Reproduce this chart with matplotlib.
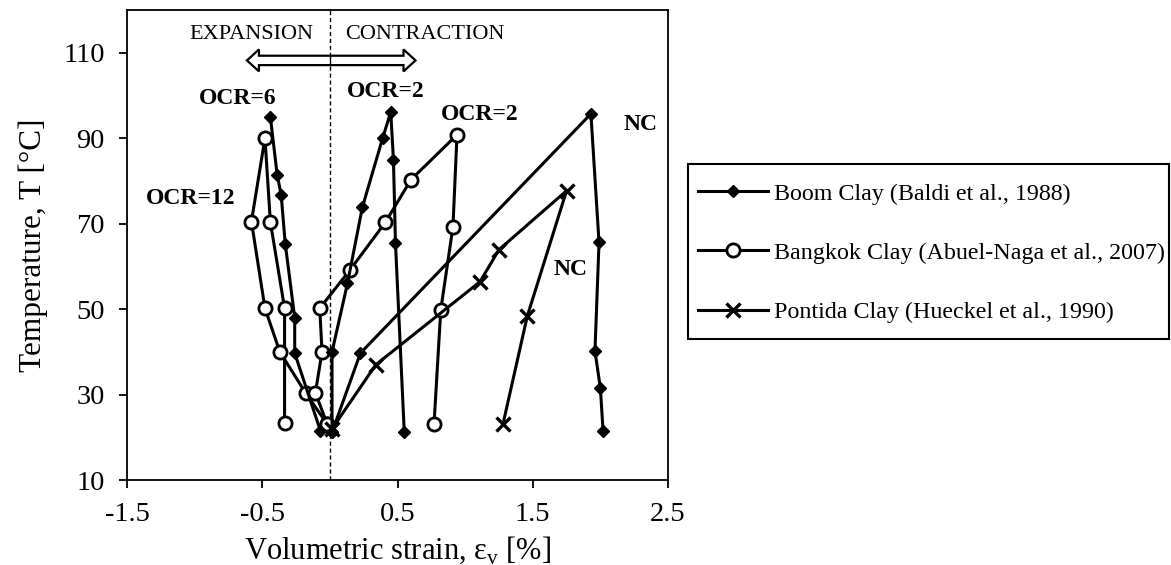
import matplotlib
matplotlib.use("Agg")
import matplotlib.pyplot as plt
from matplotlib.lines import Line2D
from matplotlib.patches import Polygon, Rectangle
import numpy as np

plt.rcParams['font.family'] = ['Liberation Serif', 'DejaVu Serif']
plt.rcParams['mathtext.fontset'] = 'custom'
plt.rcParams['mathtext.rm'] = 'Liberation Serif'

# ---------------- data ----------------
# Boom Clay (Baldi et al., 1988)
boom_ocr6_x = [-0.07, -0.26, -0.26, -0.33, -0.36, -0.39, -0.44]
boom_ocr6_t = [21.5, 39.7, 48.0, 65.3, 76.7, 81.5, 95.0]
boom_ocr2_x = [0.016, 0.016, 0.13, 0.24, 0.39, 0.45, 0.47, 0.485, 0.55]
boom_ocr2_t = [21.2, 40.0, 56.0, 73.8, 90.0, 96.1, 85.0, 65.4, 21.2]
boom_nc_x = [0.016, 0.226, 1.93, 1.99, 1.96, 2.00, 2.02]
boom_nc_t = [21.2, 39.7, 95.7, 65.6, 40.2, 31.5, 21.5]

# Bangkok Clay (Abuel-Naga et al., 2007)
bkk_ocr12_x = [-0.02, -0.18, -0.37, -0.48, -0.58, -0.48, -0.44, -0.335, -0.335]
bkk_ocr12_t = [23.1, 30.4, 40.0, 50.2, 70.5, 90.0, 70.4, 50.2, 23.3]
bkk_ocr2_x = [-0.02, -0.107, -0.058, -0.075, 0.15, 0.41, 0.60, 0.94, 0.91, 0.82, 0.77]
bkk_ocr2_t = [23.1, 30.4, 40.0, 50.2, 59.2, 70.3, 80.3, 90.8, 69.3, 49.8, 23.1]

# Pontida Clay (Hueckel et al., 1990)
pont_x = [0.016, 0.34, 1.11, 1.25, 1.75, 1.46, 1.28]
pont_t = [22.0, 37.0, 56.4, 63.9, 77.7, 48.4, 23.1]

series_labels = ["Boom Clay (Baldi et al., 1988)",
                 "Bangkok Clay (Abuel-Naga et al., 2007)",
                 "Pontida Clay (Hueckel et al., 1990)"]

x_ticks = [-1.5, -0.5, 0.5, 1.5, 2.5]
y_ticks = [10, 30, 50, 70, 90, 110]

# ---------------- figure ----------------
W, H = 1171, 565
fig = plt.figure(figsize=(W / 100, H / 100), dpi=100)
ax = fig.add_axes([127 / W, 1 - 480 / H, (668 - 127) / W, (480 - 10) / H])

lw = 2.2
boom_style = dict(color='black', lw=lw, marker='D', markersize=6.2,
                  markerfacecolor='black', markeredgecolor='black')
bkk_style = dict(color='black', lw=lw, marker='o', markersize=9.5,
                 markerfacecolor='white', markeredgecolor='black', markeredgewidth=2.0)
pont_style = dict(color='black', lw=lw, marker='x', markersize=9.5,
                  markeredgewidth=2.4)

ax.axvline(0, color='black', lw=1.0, linestyle=(0, (3, 2)), zorder=1)

ax.plot(bkk_ocr12_x, bkk_ocr12_t, zorder=2, **bkk_style)
ax.plot(bkk_ocr2_x, bkk_ocr2_t, zorder=2, **bkk_style)
ax.plot(pont_x, pont_t, zorder=3, **pont_style)
ax.plot(boom_ocr6_x, boom_ocr6_t, zorder=4, **boom_style)
ax.plot(boom_ocr2_x, boom_ocr2_t, zorder=4, **boom_style)
ax.plot(boom_nc_x, boom_nc_t, zorder=4, **boom_style)

ax.set_xlim(-1.5, 2.5)
ax.set_ylim(10, 120)
ax.set_xticks(x_ticks)
ax.set_xticklabels([f"{v:.1f}" for v in x_ticks])
ax.set_yticks(y_ticks)
ax.set_yticklabels([str(v) for v in y_ticks])
ax.tick_params(direction='out', length=6, width=1.3, labelsize=20.5, pad=10,
               colors='black')
for s in ax.spines.values():
    s.set_linewidth(1.3)
    s.set_color('black')

ax.set_xlabel(r"Volumetric strain, ε$_\mathregular{v}$ [%]", fontsize=22, labelpad=5)
ax.set_ylabel("Temperature, T [°C]", fontsize=22.5, labelpad=11)

# annotations
bold = dict(fontsize=17, fontweight='bold', ha='center', va='center')
ax.text(-0.68, 99.4, "OCR=6", **bold)
ax.text(-1.03, 76.0, "OCR=12", **bold)
ax.text(0.41, 100.9, "OCR=2", **bold)
ax.text(1.107, 95.5, "OCR=2", **bold)
ax.text(2.30, 93.1, "NC", **bold)
ax.text(1.78, 59.2, "NC", **bold)

ax.text(-0.12, 114.2, "EXPANSION", fontsize=16, ha='right', va='center')
ax.text(0.115, 114.2, "CONTRACTION", fontsize=16, ha='left', va='center')

# hollow double arrow (sizes in pixels converted to data units)
px_x = 4.0 / (668 - 127)   # data units per pixel in x
px_y = 110.0 / (480 - 10)  # data units per pixel in y
xa, xb, yc = -0.613, 0.633, 108.2
hs, hh, hl = 4.7 * px_y, 11.0 * px_y, 12.0 * px_x
poly = [(xa, yc), (xa + hl, yc + hh), (xa + hl, yc + hs), (xb - hl, yc + hs),
        (xb - hl, yc + hh), (xb, yc), (xb - hl, yc - hh), (xb - hl, yc - hs),
        (xa + hl, yc - hs), (xa + hl, yc - hh)]
ax.add_patch(Polygon(poly, closed=True, facecolor='white', edgecolor='black',
                     lw=1.6, zorder=5, joinstyle='miter'))
ax.plot([0, 0], [yc - hs, yc + hs], color='black', lw=1.0, zorder=6)

# legend (frame drawn separately)
fig.patches.append(Rectangle((688 / W, 1 - 339 / H), (1169 - 688) / W, (339 - 164) / H,
                             transform=fig.transFigure, facecolor='none',
                             edgecolor='black', lw=1.5))
handles = [Line2D([], [], **boom_style), Line2D([], [], **bkk_style),
           Line2D([], [], **pont_style)]
leg = fig.legend(handles, series_labels, loc='upper left',
                 bbox_to_anchor=(698 / W, 1 - 183 / H), borderaxespad=0,
                 fontsize=17.3, frameon=False, handlelength=2.9, handletextpad=0.25,
                 labelspacing=1.55, borderpad=0)

fig.savefig("out.png", dpi=100)
